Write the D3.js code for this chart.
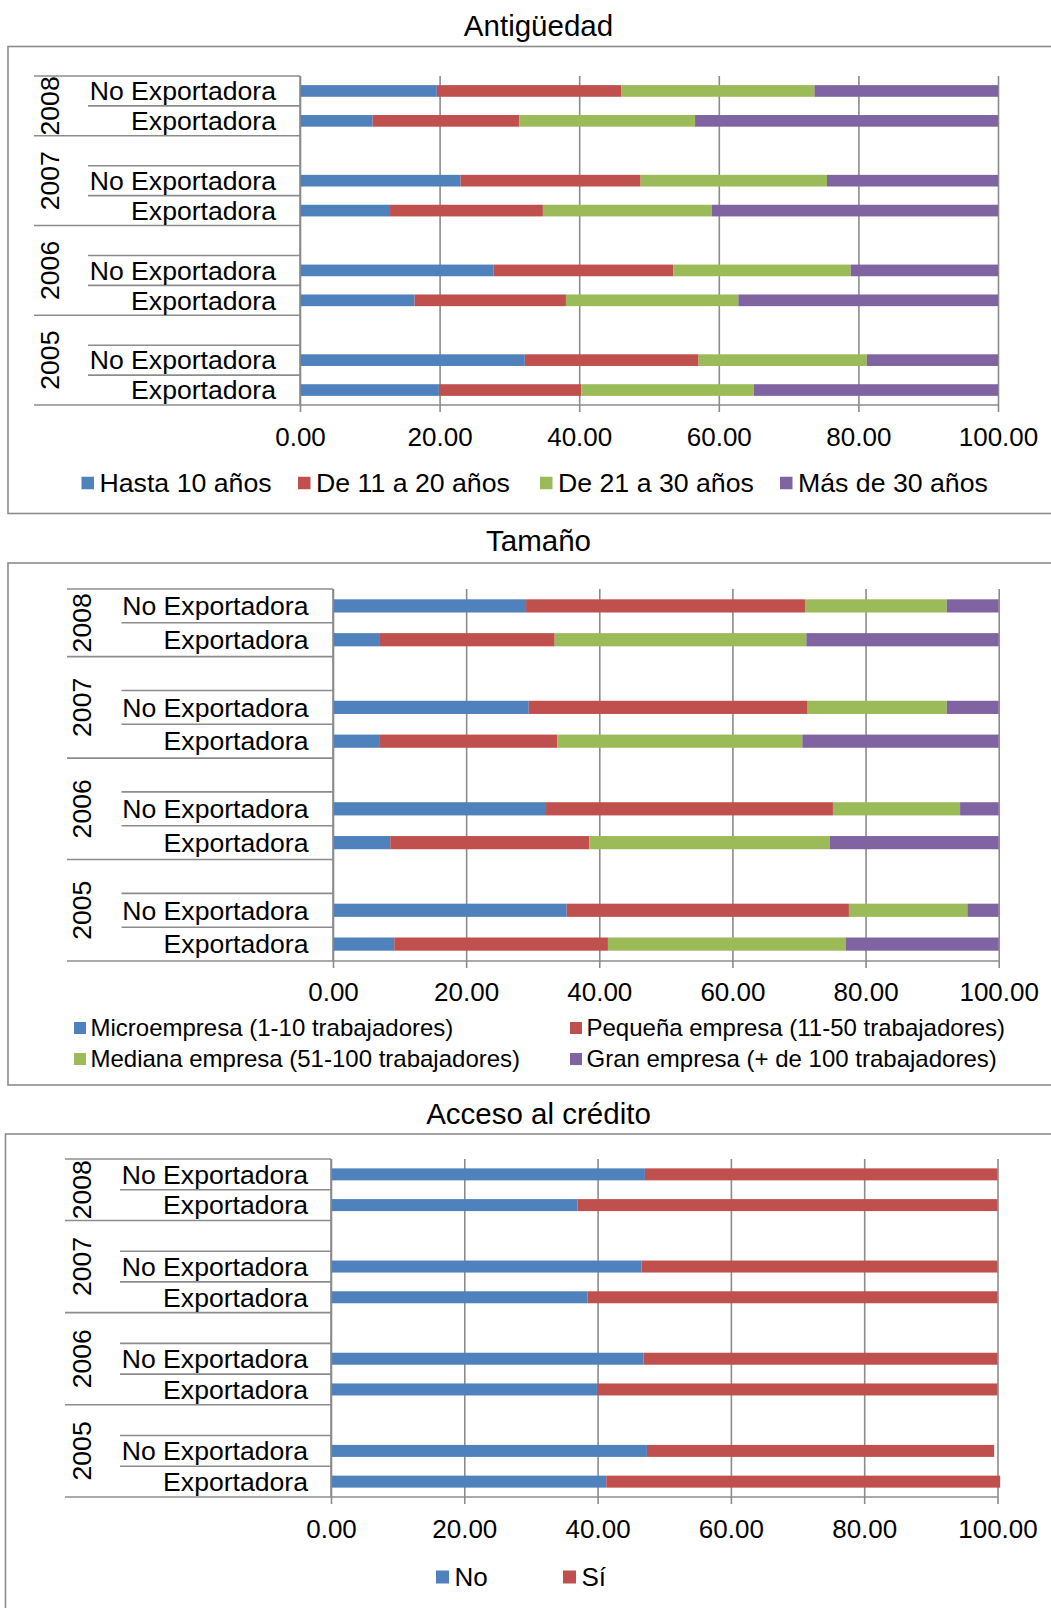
<!DOCTYPE html>
<html><head><meta charset="utf-8">
<script src="https://cdn.jsdelivr.net/npm/d3@7"></script>
<style>
html,body{margin:0;padding:0;background:#fff;}
svg text{font-family:"Liberation Sans",Arial,sans-serif;fill:#000;}
</style></head><body>
<svg id="chart" width="1051" height="1608"></svg>
<script>
// ---------------- DATA ----------------
const years = ["2008", "2007", "2006", "2005"];
const firmTypes = ["No Exportadora", "Exportadora"];
const xTickValues = [0, 20, 40, 60, 80, 100];

// value order: 2008 NoExp, 2008 Exp, 2007 NoExp, 2007 Exp, 2006 NoExp, 2006 Exp, 2005 NoExp, 2005 Exp
const antiguedadSeries = ["Hasta 10 años", "De 11 a 20 años", "De 21 a 30 años", "Más de 30 años"];
const antHasta10 = [19.6, 10.4, 23.0, 12.9, 27.7, 16.4, 32.2, 19.9];
const antDe11a20 = [26.4, 21.0, 25.8, 21.9, 25.8, 21.7, 24.9, 20.4];
const antDe21a30 = [27.7, 25.2, 26.7, 24.2, 25.4, 24.7, 24.1, 24.7];
const antMas30   = [26.3, 43.4, 24.5, 41.0, 21.1, 37.2, 18.8, 35.0];

const tamanoSeries = ["Microempresa (1-10 trabajadores)", "Pequeña empresa (11-50 trabajadores)",
                      "Mediana empresa (51-100 trabajadores)", "Gran empresa (+ de 100 trabajadores)"];
const tamMicro   = [29.0, 7.05, 29.4, 7.05, 32.0, 8.6, 35.1, 9.2];
const tamPequena = [41.9, 26.25, 41.9, 26.65, 43.1, 29.9, 42.4, 32.1];
const tamMediana = [21.3, 37.8, 20.9, 36.8, 19.1, 36.1, 17.8, 35.7];
const tamGrande  = [7.8, 28.9, 7.8, 29.5, 5.8, 25.4, 4.7, 23.0];

const creditoSeries = ["No", "Sí"];
const credNo = [47.1, 37.0, 46.6, 38.5, 46.9, 39.9, 47.4, 41.3];
const credSi = [52.9, 63.0, 53.4, 61.5, 53.1, 60.1, 52.1, 59.1];

// ---------------- STYLE / LAYOUT ----------------
const seriesColors = ["#4F81BD", "#C0504D", "#9BBB59", "#8064A2"];
const lineColor = "#8c8c8c";

const panels = [
  { title: "Antigüedad", titleX: 538.5, titleY: 26, titleSize: 29.5,
    box: {x: 8, y: 46.5, w: 1100, h: 467},
    x0: 300, x1: 998, top: 76, bottom: 405,
    yearLineX: 34, innerLineX: 88, yearX: 50, labelRight: 276, tickLabelY: 437,
    series: antiguedadSeries, values: [antHasta10, antDe11a20, antDe21a30, antMas30],
    legendPos: [[81.5, 483], [298, 483], [540, 483], [780, 483]], legendSq: 12.5, legendGap: 18, legendSize: 26.7 },
  { title: "Tamaño", titleX: 538.5, titleY: 541, titleSize: 29.5,
    box: {x: 8, y: 563, w: 1100, h: 522},
    x0: 333, x1: 998.7, top: 589, bottom: 961,
    yearLineX: 67, innerLineX: 121.5, yearX: 82, labelRight: 308.5, tickLabelY: 992,
    series: tamanoSeries, values: [tamMicro, tamPequena, tamMediana, tamGrande],
    legendPos: [[74, 1028], [570, 1028], [74, 1059], [570, 1059]], legendSq: 12, legendGap: 16.5, legendSize: 24 },
  { title: "Acceso al crédito", titleX: 538.5, titleY: 1114, titleSize: 29.5,
    box: {x: 5.5, y: 1134, w: 1100, h: 600},
    x0: 331, x1: 997.5, top: 1159, bottom: 1497,
    yearLineX: 65, innerLineX: 120, yearX: 82, labelRight: 308, tickLabelY: 1529,
    series: creditoSeries, values: [credNo, credSi],
    legendPos: [[436, 1577], [563, 1577]], legendSq: 13, legendGap: 18.5, legendSize: 26 }
];

const svg = d3.select("#chart");
const FS = 26;        // tick labels
const LABEL_FS = 26.6; // category / year labels

panels.forEach(p => {
  const g = svg.append("g");

  // title
  g.append("text").attr("x", p.titleX).attr("y", p.titleY).attr("dy", "0.35em")
    .attr("text-anchor", "middle").style("font-size", p.titleSize + "px").text(p.title);

  // border
  g.append("rect").attr("x", p.box.x).attr("y", p.box.y).attr("width", p.box.w).attr("height", p.box.h)
    .attr("fill", "none").attr("stroke", lineColor).attr("stroke-width", 1.6);

  // slots (with blank separator slots between years)
  const slots = [];
  const groups = [];
  years.forEach((yr, yi) => {
    const ids = [];
    if (yi > 0) ids.push(yr + "|blank");
    firmTypes.forEach(t => ids.push(yr + "|" + t));
    ids.forEach(id => slots.push(id));
    groups.push({year: yr, ids: ids});
  });

  const x = d3.scaleLinear().domain([0, 100]).range([p.x0, p.x1]);
  const y = d3.scaleBand().domain(slots).range([p.top, p.bottom]).padding(0);
  const bw = y.bandwidth();

  // gridlines
  const grid = g.append("g").attr("transform", `translate(0,${p.bottom})`)
    .call(d3.axisBottom(x).tickValues(xTickValues).tickSize(-(p.bottom - p.top)).tickFormat(""));
  grid.select(".domain").remove();
  grid.selectAll(".tick line").attr("stroke", lineColor).attr("stroke-width", 1.6);

  // rows for stacking
  const rows = [];
  years.forEach((yr, yi) => firmTypes.forEach((t, ti) => {
    const i = yi * 2 + ti;
    const r = {slot: yr + "|" + t};
    p.series.forEach((s, k) => r[s] = p.values[k][i]);
    rows.push(r);
  }));
  const stacked = d3.stack().keys(p.series)(rows);
  const barH = bw * 0.39;

  g.append("g").selectAll("g").data(stacked).join("g")
    .attr("fill", (d, i) => seriesColors[i])
    .selectAll("rect").data(d => d).join("rect")
    .attr("x", d => x(d[0]))
    .attr("width", d => x(d[1]) - x(d[0]))
    .attr("y", d => y(d.data.slot) + (bw - barH) / 2)
    .attr("height", barH);

  // category axis lines (multi-level)
  const lines = g.append("g").attr("stroke", lineColor).attr("stroke-width", 1.6);
  const groupStarts = new Set(groups.map(gr => gr.ids[0]));
  slots.forEach(id => {
    const yy = y(id);
    const isGroup = groupStarts.has(id);
    lines.append("line").attr("x1", isGroup ? p.yearLineX : p.innerLineX).attr("x2", p.x0)
      .attr("y1", yy).attr("y2", yy);
  });
  lines.append("line").attr("x1", p.yearLineX).attr("x2", p.x1).attr("y1", p.bottom).attr("y2", p.bottom);
  lines.append("line").attr("x1", p.x0).attr("x2", p.x0).attr("y1", p.top).attr("y2", p.bottom);

  // value axis ticks + labels
  const ax = g.append("g").attr("transform", `translate(0,${p.bottom})`)
    .call(d3.axisBottom(x).tickValues(xTickValues).tickSize(7).tickFormat(d3.format(".2f")));
  ax.select(".domain").remove();
  ax.selectAll(".tick line").attr("stroke", lineColor).attr("stroke-width", 1.6);
  ax.selectAll(".tick text").attr("y", p.tickLabelY - p.bottom).attr("dy", "0.35em")
    .style("font-size", FS + "px").style("font-family", '"Liberation Sans",Arial,sans-serif').attr("fill", "#000");

  // category labels
  rows.forEach(r => {
    g.append("text").attr("x", p.labelRight).attr("y", y(r.slot) + bw / 2).attr("dy", "0.35em")
      .attr("text-anchor", "end").style("font-size", LABEL_FS + "px").text(r.slot.split("|")[1]);
  });

  // year labels
  groups.forEach(gr => {
    const y0 = y(gr.ids[0]);
    const y1 = y(gr.ids[gr.ids.length - 1]) + bw;
    const cy = (y0 + y1) / 2;
    g.append("text").attr("transform", `translate(${p.yearX},${cy}) rotate(-90)`)
      .attr("dy", "0.35em").attr("text-anchor", "middle").style("font-size", LABEL_FS + "px").text(gr.year);
  });

  // legend
  const lg = g.append("g");
  p.series.forEach((s, i) => {
    const [lx, ly] = p.legendPos[i];
    lg.append("rect").attr("x", lx).attr("y", ly - p.legendSq / 2).attr("width", p.legendSq)
      .attr("height", p.legendSq).attr("fill", seriesColors[i]);
    lg.append("text").attr("x", lx + p.legendGap).attr("y", ly).attr("dy", "0.35em")
      .style("font-size", p.legendSize + "px").text(s);
  });
});
</script>
</body></html>
